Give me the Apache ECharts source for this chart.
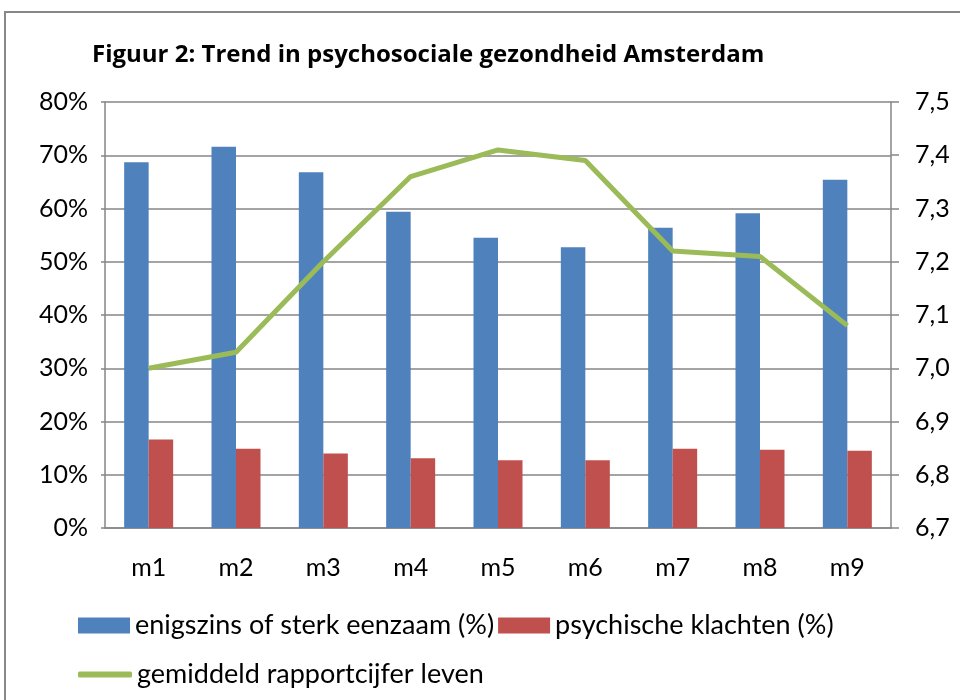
<!DOCTYPE html>
<html>
<head>
<meta charset="utf-8">
<script src="https://cdn.jsdelivr.net/npm/echarts@6/dist/echarts.min.js"></script>
<style>html,body{margin:0;padding:0;background:#fff}#c{width:960px;height:700px}</style>
</head>
<body>
<div id="c"></div>
<script>
const categories = ['m1','m2','m3','m4','m5','m6','m7','m8','m9'];
const eenzaam = [68.7, 71.6, 66.8, 59.4, 54.5, 52.7, 56.4, 59.1, 65.4];
const klachten = [16.6, 14.9, 14.0, 13.1, 12.7, 12.7, 14.9, 14.7, 14.5];
const rapportcijfer = [7.00, 7.03, 7.20, 7.36, 7.41, 7.39, 7.22, 7.21, 7.08];
const leftTicks = [0, 80, 10];
const rightTicks = [6.7, 7.5, 0.1];
const names = ['enigszins of sterk eenzaam (%)', 'psychische klachten (%)', 'gemiddeld rapportcijfer leven'];

const FONT = 'Lato';
const chart = echarts.init(document.getElementById('c'));
chart.setOption({
  animation: false,
  backgroundColor: '#fff',
  title: {
    text: 'Figuur 2: Trend in psychosociale gezondheid Amsterdam',
    left: 87, top: 38,
    textStyle: {fontFamily: 'Open Sans', fontWeight: 'bold', fontSize: 24, color: '#000'}
  },
  graphic: [{
    type: 'rect', shape: {x: 5, y: 12, width: 1000, height: 800},
    style: {fill: 'none', stroke: '#888', lineWidth: 2}, silent: true
  }],
  grid: {left: 105, right: 69, top: 102, bottom: 172},
  legend: [{
    data: [names[0], names[1]],
    left: 73, top: 607, orient: 'horizontal',
    itemWidth: 52, itemHeight: 16, itemGap: 4,
    icon: 'rect',
    textStyle: {fontFamily: FONT, fontSize: 27, color: '#000'}
  }, {
    data: [{name: names[2], icon: 'roundRect'}],
    left: 73, top: 656,
    itemWidth: 54, itemHeight: 6,
    textStyle: {fontFamily: FONT, fontSize: 27, color: '#000'}
  }],
  xAxis: {
    type: 'category', data: categories,
    axisLine: {lineStyle: {color: '#868686', width: 1.5}},
    axisTick: {show: false},
    axisLabel: {fontFamily: FONT, fontSize: 25, color: '#000', margin: 27}
  },
  yAxis: [{
    type: 'value', min: leftTicks[0], max: leftTicks[1], interval: leftTicks[2],
    axisLine: {show: true, lineStyle: {color: '#868686', width: 1.5}},
    axisTick: {show: true, length: 4, lineStyle: {color: '#868686', width: 1.5}},
    splitLine: {lineStyle: {color: '#868686', width: 1.5}},
    axisLabel: {formatter: '{value}%', fontFamily: FONT, fontSize: 25, color: '#000', margin: 17}
  }, {
    type: 'value', min: rightTicks[0], max: rightTicks[1], interval: rightTicks[2],
    position: 'right',
    axisLine: {show: true, lineStyle: {color: '#868686', width: 1.5}},
    axisTick: {show: true, length: 8, lineStyle: {color: '#868686', width: 1.5}},
    splitLine: {show: false},
    axisLabel: {formatter: v => v.toFixed(1).replace('.', ','), fontFamily: FONT, fontSize: 25, color: '#000', margin: 24}
  }],
  series: [{
    name: names[0], type: 'bar', data: eenzaam, barWidth: 24.5, barGap: '0%',
    itemStyle: {color: '#4F81BD'}
  }, {
    name: names[1], type: 'bar', data: klachten, barWidth: 24.5, barGap: '0%',
    itemStyle: {color: '#C0504D'}
  }, {
    name: names[2], type: 'line', yAxisIndex: 1, data: rapportcijfer,
    symbol: 'none', z: 5,
    lineStyle: {color: '#9BBB59', width: 5},
    itemStyle: {color: '#9BBB59'}
  }]
});
</script>
</body>
</html>
